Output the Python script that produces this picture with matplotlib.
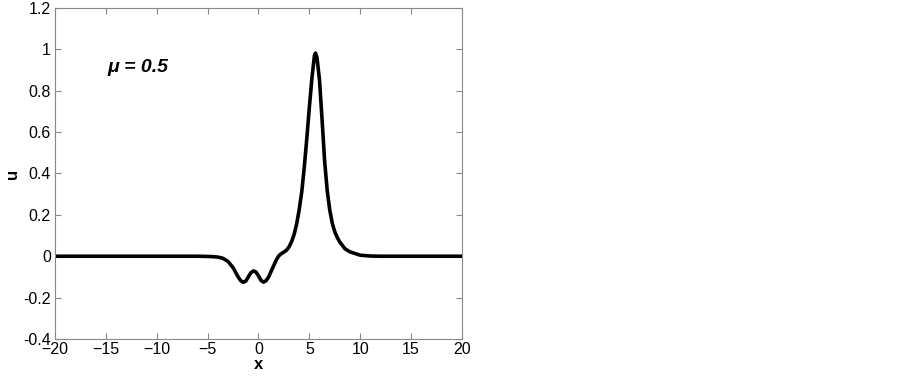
import matplotlib
matplotlib.use('Agg')
import matplotlib.pyplot as plt

plt.rcParams['font.family'] = ['Liberation Sans', 'DejaVu Sans']

# values
x = [-20, -10, -6, -5, -4.5, -4, -3.5, -3, -2.5, -2, -1.75, -1.5, -1.25, -1,
     -0.75, -0.5, -0.25, 0, 0.25, 0.5, 0.75, 1, 1.25, 1.5, 1.75, 2, 2.25,
     2.5, 2.75, 3, 3.25, 3.5, 3.75, 4, 4.25, 4.5, 4.75, 5, 5.25, 5.5, 5.6,
     5.75, 6, 6.25, 6.5, 6.75, 7, 7.25, 7.5, 7.75, 8, 8.5, 9, 10, 11, 12, 20]
u = [0, 0, 0, -0.001, -0.002, -0.004, -0.01, -0.025, -0.055, -0.1, -0.118,
     -0.126, -0.12, -0.1, -0.08, -0.071, -0.076, -0.095, -0.117, -0.125,
     -0.118, -0.1, -0.072, -0.045, -0.018, 0.002, 0.013, 0.02, 0.029, 0.045,
     0.07, 0.105, 0.155, 0.225, 0.31, 0.43, 0.57, 0.72, 0.86, 0.97, 0.982,
     0.96, 0.85, 0.66, 0.46, 0.32, 0.225, 0.16, 0.118, 0.09, 0.068, 0.036,
     0.021, 0.005, 0.001, 0, 0]
xticks = [-20, -15, -10, -5, 0, 5, 10, 15, 20]
yticks = [-0.4, -0.2, 0, 0.2, 0.4, 0.6, 0.8, 1, 1.2]
ylabels = ['-0.4', '-0.2', '0', '0.2', '0.4', '0.6', '0.8', '1', '1.2']

fig = plt.figure(figsize=(9.03, 3.78), dpi=100)
ax = fig.add_axes([0.0609, 0.1032, 0.4507, 0.8757])
ax.plot(x, u, color='black', linewidth=2.6)
ax.set_xlim(-20, 20)
ax.set_ylim(-0.4, 1.2)
ax.set_xticks(xticks)
ax.set_yticks(yticks)
ax.set_yticklabels(ylabels)
ax.tick_params(direction='in', top=True, right=True, length=4,
               labelsize=11.5, color='#888888', pad=3)
ax.tick_params(axis='x', pad=2)
for s in ax.spines.values():
    s.set_color('#888888')
    s.set_linewidth(0.8)
ax.set_xlabel('x', fontsize=12, fontweight='bold', labelpad=0)
ax.set_ylabel('u', fontsize=12, fontweight='bold', labelpad=2)
ax.text(-14.8, 0.89, 'μ = 0.5', fontsize=14, fontweight='bold',
        fontstyle='italic')

fig.savefig('out.png', dpi=100)
